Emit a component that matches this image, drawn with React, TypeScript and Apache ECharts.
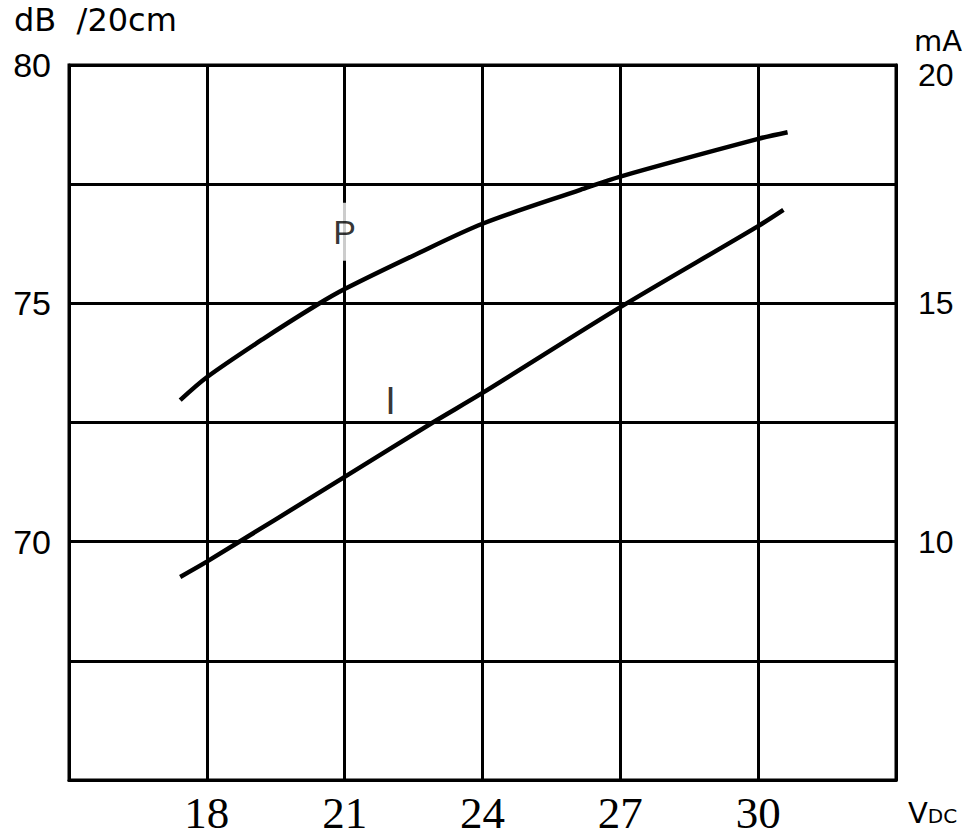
import React, { useEffect, useRef } from "react";
import * as echarts from "echarts";

// Voltage (V DC) sample points
const pVolts = [17.42, 18, 19.22, 20.4, 21, 22.49, 24, 26.13, 27, 30, 30.64];
// Sound pressure P (dB /20cm), left axis
const pValues = [72.97, 73.45, 74.25, 74.97, 75.3, 76.0, 76.67, 77.38, 77.66, 78.45, 78.59];

const iVolts = [17.42, 18, 21, 22.9, 24, 27, 30, 30.55];
// Current I (mA), right axis
const iValues = [9.26, 9.58, 11.36, 12.49, 13.12, 14.92, 16.62, 16.96];

const xTickLabels = [18, 21, 24, 27, 30];
const leftTickLabels = [70, 75, 80];
const rightTickLabels = [10, 15, 20];

const curveLabels = [
  { name: "P", x: 21, y: 76.5, axis: 0 },
  { name: "I", x: 22, y: 12.95, axis: 1 },
];

export default function App() {
  const ref = useRef<HTMLDivElement>(null);
  useEffect(() => {
    document.body.style.margin = "0";
    const chart = echarts.init(ref.current!, undefined, { renderer: "svg" });
    const sans = "Liberation Sans";
    const wide = "DejaVu Sans";
    chart.setOption({
      animation: false,
      backgroundColor: "#ffffff",
      grid: {
        left: 69,
        right: 81,
        top: 65,
        bottom: 57,
        show: true,
        borderColor: "#000",
        borderWidth: 3,
      },
      xAxis: {
        type: "value",
        min: 15,
        max: 33,
        interval: 3,
        axisLine: { lineStyle: { color: "#000", width: 3 } },
        axisTick: { show: false },
        axisLabel: {
          margin: 12,
          fontFamily: "Liberation Serif",
          fontSize: 45,
          lineHeight: 42,
          color: "#000",
          formatter: (v: number) => (xTickLabels.includes(v) ? String(v) : ""),
        },
        splitLine: { show: true, lineStyle: { color: "#000", width: 3 } },
      },
      yAxis: [
        {
          type: "value",
          min: 65,
          max: 80,
          interval: 2.5,
          position: "left",
          axisLine: { show: true, lineStyle: { color: "#000", width: 3 } },
          axisTick: { show: false },
          axisLabel: {
            margin: 18,
            fontFamily: sans,
            fontSize: 34,
            color: "#000",
            formatter: (v: number) => (leftTickLabels.includes(v) ? String(v) : ""),
          },
          splitLine: { show: true, lineStyle: { color: "#000", width: 3 } },
        },
        {
          type: "value",
          min: 5,
          max: 20,
          interval: 2.5,
          position: "right",
          axisLine: { show: true, lineStyle: { color: "#000", width: 3 } },
          axisTick: { show: false },
          axisLabel: {
            margin: 22,
            fontFamily: sans,
            fontSize: 32,
            color: "#000",
            formatter: (v: number) =>
              rightTickLabels.includes(v) ? (v === 20 ? "{top|20}" : String(v)) : "",
            rich: {
              top: { fontFamily: sans, fontSize: 32, color: "#000", padding: [20, 0, 0, 0] },
            },
          },
          splitLine: { show: false },
        },
      ],
      graphic: [
        {
          type: "text",
          left: 14,
          top: 4,
          style: { text: "dB  /20cm", font: `32px "${wide}"`, fill: "#000" },
        },
        {
          type: "text",
          left: 914,
          top: 26,
          style: { text: "mA", font: `29px "${wide}"`, fill: "#000" },
        },
        {
          type: "text",
          left: 908,
          top: 798,
          style: {
            text: "{a|V}{b|DC}",
            rich: {
              a: { fontFamily: wide, fontSize: 29, fill: "#000", color: "#000" },
              b: { fontFamily: wide, fontSize: 20, fill: "#000", color: "#000", padding: [6, 0, 0, 0] },
            },
          },
        },
      ],
      series: [
        {
          type: "line",
          yAxisIndex: 0,
          smooth: 0.3,
          symbol: "none",
          lineStyle: { color: "#000", width: 4.5 },
          data: pVolts.map((v, i) => [v, pValues[i]]),
          z: 3,
        },
        {
          type: "line",
          yAxisIndex: 1,
          smooth: 0.3,
          symbol: "none",
          lineStyle: { color: "#000", width: 4.5 },
          data: iVolts.map((v, i) => [v, iValues[i]]),
          z: 3,
        },
        ...curveLabels.map((c) => ({
          type: "scatter",
          yAxisIndex: c.axis,
          symbolSize: 0,
          z: 5,
          silent: true,
          itemStyle: { color: "#000" },
          data: [[c.x, c.y]],
          label: {
            show: true,
            position: [0, 0],
            align: "center",
            verticalAlign: "middle",
            formatter: c.name,
            fontFamily: sans,
            fontSize: c.name === "P" ? 34 : 38,
            color: "#000",
            textBorderWidth: 0,
            backgroundColor: c.name === "P" ? "#fff" : "transparent",
            padding: c.name === "P" ? [12, 4, 12, 4] : 0,
          },
        })),
      ],
    });
    return () => chart.dispose();
  }, []);
  return (
    <div
      ref={ref}
      style={{ position: "absolute", left: 0, top: 0, width: 977, height: 837 }}
    />
  );
}
